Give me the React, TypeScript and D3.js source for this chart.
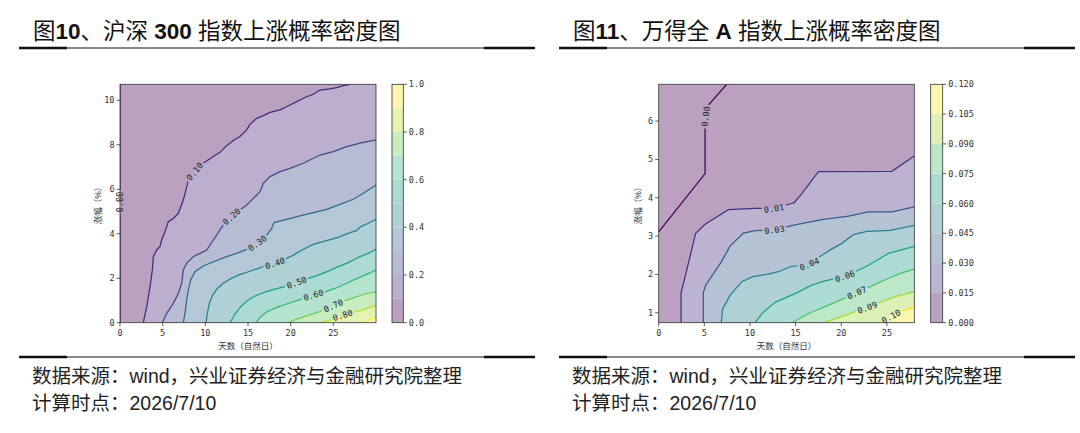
import React from "react";
import * as d3 from "d3";

type P = [number, number];

// ---------- 图10 沪深300 ----------
const HS_X_DOMAIN: P = [0, 30];
const HS_Y_DOMAIN: P = [0, 10.72];
const HS_X_TICKS = [0, 5, 10, 15, 20, 25];
const HS_Y_TICKS = [0, 2, 4, 6, 8, 10];
const HS_BOUNDS = [0, 0.1, 0.2, 0.3, 0.4, 0.5, 0.6, 0.7, 0.8, 0.9, 1.0];
const HS_CBAR_TICKS = [0, 0.2, 0.4, 0.6, 0.8, 1.0];

const HS_C00: P[] = [[0, 0], [0, 10.72]];
const HS_C10: P[] = [[2.73, 0], [3.13, 0.72], [3.52, 1.62], [3.79, 2.37], [3.91, 2.97], [4.3, 3.27], [4.69, 3.42], [4.88, 3.72], [5.27, 4.09], [5.47, 4.32], [5.66, 4.54], [6.25, 4.69], [6.84, 4.92], [7.42, 5.52], [7.73, 5.97], [8.01, 6.42], [8.79, 6.82], [9.45, 7.09], [10.16, 7.27], [10.94, 7.47], [11.72, 7.66], [12.5, 7.96], [13.28, 8.19], [14.06, 8.37], [14.84, 8.67], [15.23, 8.92], [16.02, 9.19], [16.8, 9.31], [17.58, 9.46], [18.75, 9.57], [19.92, 9.79], [20.7, 9.94], [21.88, 10.16], [22.66, 10.27], [23.44, 10.46], [24.61, 10.51], [25.39, 10.57], [26.17, 10.66], [26.95, 10.72]];
const HS_C20: P[] = [[4.96, 0], [5.47, 0.42], [6.25, 0.87], [6.84, 1.32], [7.23, 1.77], [7.42, 2.37], [7.81, 2.67], [8.59, 2.97], [9.38, 3.12], [10.16, 3.27], [10.55, 3.49], [10.94, 3.72], [11.33, 3.94], [11.72, 4.17], [12.11, 4.39], [13.09, 4.77], [14.06, 5.07], [14.84, 5.29], [15.63, 5.59], [16.41, 5.89], [16.8, 6.27], [17.58, 6.57], [18.75, 6.79], [19.92, 6.94], [21.48, 7.17], [23.44, 7.54], [25, 7.69], [26.56, 7.92], [28.13, 8.07], [30, 8.22]];
const HS_C30: P[] = [[7.42, 0], [7.62, 0.42], [7.81, 1.02], [8.01, 1.47], [8.28, 1.92], [8.79, 2.29], [9.77, 2.55], [10.94, 2.74], [12.5, 2.97], [13.67, 3.12], [14.84, 3.3], [16.09, 3.57], [17.19, 3.94], [17.77, 4.24], [18.05, 4.5], [19.53, 4.65], [21.09, 4.8], [22.66, 4.95], [24.22, 5.1], [25.78, 5.32], [27.34, 5.55], [28.52, 5.82], [30, 6.19]];
const HS_C40: P[] = [[10.08, 0], [10.23, 0.42], [10.47, 0.87], [10.86, 1.24], [11.41, 1.54], [12.11, 1.77], [12.89, 1.96], [13.87, 2.14], [15.04, 2.29], [16.21, 2.44], [16.99, 2.55], [18.16, 2.67], [19.34, 2.86], [20.31, 3.04], [21.48, 3.3], [22.66, 3.52], [24.22, 3.69], [25.59, 3.84], [26.95, 4.05], [27.73, 4.14], [28.2, 4.32], [29.1, 4.47], [30, 4.65]];
const HS_C50: P[] = [[12.89, 0], [13.48, 0.39], [14.14, 0.72], [14.92, 0.99], [15.82, 1.2], [16.88, 1.36], [18.05, 1.5], [19.34, 1.62], [20.7, 1.8], [22.07, 1.99], [23.24, 2.14], [24.41, 2.32], [25.59, 2.52], [26.76, 2.7], [27.93, 2.94], [29.1, 3.12], [30, 3.3]];
const HS_C60: P[] = [[15.94, 0], [16.41, 0.24], [17.19, 0.48], [18.36, 0.69], [19.53, 0.84], [20.7, 0.99], [22.66, 1.24], [24.02, 1.39], [25.2, 1.54], [26.37, 1.74], [27.54, 1.95], [28.71, 2.14], [30, 2.37]];
const HS_C70: P[] = [[19.73, 0], [20.7, 0.16], [21.88, 0.31], [23.05, 0.45], [23.91, 0.57], [25.0, 0.76], [26.37, 0.99], [27.54, 1.14], [28.71, 1.29], [30, 1.39]];
const HS_C80: P[] = [[23.44, 0], [24.61, 0.12], [26.09, 0.33], [27.34, 0.46], [28.71, 0.61], [30, 0.79]];
const HS_C90: P[] = [[28.52, 0], [30, 0.27]];
const HS_LINES = [HS_C00, HS_C10, HS_C20, HS_C30, HS_C40, HS_C50, HS_C60, HS_C70, HS_C80, HS_C90];
const HS_LABEL_TEXT = ["0.00", "0.10", "0.20", "0.30", "0.40", "0.50", "0.60", "0.70", "0.80"];
const HS_LABEL_AT: P[] = [[0, 5.43], [8.79, 6.79], [13.09, 4.77], [16.09, 3.57], [18.16, 2.67], [20.7, 1.8], [22.66, 1.24], [25.0, 0.76], [26.09, 0.33]];

// ---------- 图11 万得全A ----------
const WA_X_DOMAIN: P = [0, 28];
const WA_Y_DOMAIN: P = [0.74, 6.96];
const WA_X_TICKS = [0, 5, 10, 15, 20, 25];
const WA_Y_TICKS = [1, 2, 3, 4, 5, 6];
const WA_BOUNDS = [0, 0.015, 0.03, 0.045, 0.06, 0.075, 0.09, 0.105, 0.12];
const WA_CBAR_TICKS = [0, 0.015, 0.03, 0.045, 0.06, 0.075, 0.09, 0.105, 0.12];

const WA_C00: P[] = [[0, 3.11], [5.08, 4.63], [5.08, 5.95], [5.25, 6.3], [5.44, 6.42], [7.45, 6.96]];
const WA_C01: P[] = [[2.45, 0.74], [2.45, 1.51], [4.05, 3.07], [5.08, 3.31], [7.64, 3.69], [10.56, 3.72], [12.64, 3.72], [14.84, 3.87], [15.68, 4.11], [17.5, 4.68], [25.54, 4.69], [28, 5.09]];
const WA_C03: P[] = [[4.89, 0.74], [4.89, 1.53], [5.18, 1.73], [6.9, 2.34], [7.82, 2.74], [9.29, 3.08], [10.56, 3.14], [12.68, 3.16], [14.94, 3.29], [17.87, 3.43], [20.79, 3.52], [22.98, 3.63], [25.54, 3.63], [28, 3.76]];
const WA_C04: P[] = [[6.85, 0.74], [7.0, 1.1], [7.45, 1.29], [7.83, 1.46], [9.11, 1.81], [10.32, 1.94], [11.85, 2.0], [13.13, 2.07], [14.41, 2.2], [16.5, 2.27], [17.68, 2.47], [18.78, 2.64], [20.07, 2.81], [21.34, 3.04], [22.8, 3.12], [25.36, 3.15], [28, 3.28]];
const WA_C06: P[] = [[10.56, 0.74], [11.4, 1.0], [12.75, 1.27], [14.94, 1.5], [16.77, 1.72], [18.23, 1.83], [20.4, 1.95], [22.99, 2.24], [25.18, 2.55], [28, 2.73]];
const WA_C07: P[] = [[14.58, 0.74], [16.41, 0.98], [18.6, 1.2], [20.24, 1.37], [21.7, 1.52], [23.35, 1.7], [25.18, 1.9], [26.64, 2.04], [28, 2.14]];
const WA_C09: P[] = [[18.05, 0.74], [20.06, 0.9], [21.52, 1.03], [22.85, 1.13], [24.45, 1.29], [25.91, 1.42], [28, 1.55]];
const WA_C10: P[] = [[24.2, 0.74], [25.45, 0.9], [26.64, 1.05], [28, 1.14]];
const WA_LINES = [WA_C00, WA_C01, WA_C03, WA_C04, WA_C06, WA_C07, WA_C09, WA_C10];
const WA_LABEL_TEXT = ["0.00", "0.01", "0.03", "0.04", "0.06", "0.07", "0.09", "0.10"];
const WA_LABEL_AT: P[] = [[5.12, 6.12], [12.64, 3.72], [12.68, 3.16], [16.5, 2.27], [20.4, 1.95], [21.7, 1.52], [22.85, 1.13], [25.45, 0.9]];

const FILL_ALPHA = 0.37;
const CJK = "'Liberation Sans', Arial, 'Noto Sans CJK SC', sans-serif";
const MONO = "'DejaVu Sans Mono', monospace";

function placeLabel(pix: P[], target: P, half: number) {
  const cum = [0];
  for (let i = 1; i < pix.length; i++) {
    cum.push(cum[i - 1] + Math.hypot(pix[i][0] - pix[i - 1][0], pix[i][1] - pix[i - 1][1]));
  }
  const total = cum[cum.length - 1];
  let best = { d: Infinity, s: 0, p: pix[0] as P };
  for (let i = 1; i < pix.length; i++) {
    const a = pix[i - 1], b = pix[i];
    const dx = b[0] - a[0], dy = b[1] - a[1];
    const L2 = dx * dx + dy * dy || 1e-9;
    let t = ((target[0] - a[0]) * dx + (target[1] - a[1]) * dy) / L2;
    t = Math.max(0, Math.min(1, t));
    const p: P = [a[0] + t * dx, a[1] + t * dy];
    const d = Math.hypot(p[0] - target[0], p[1] - target[1]);
    if (d < best.d) best = { d, s: cum[i - 1] + t * Math.sqrt(L2), p };
  }
  const at = (s: number): P => {
    s = Math.max(0, Math.min(total, s));
    for (let i = 1; i < pix.length; i++) {
      if (s <= cum[i] || i === pix.length - 1) {
        const seg = cum[i] - cum[i - 1] || 1e-9;
        const t = (s - cum[i - 1]) / seg;
        return [pix[i - 1][0] + t * (pix[i][0] - pix[i - 1][0]), pix[i - 1][1] + t * (pix[i][1] - pix[i - 1][1])];
      }
    }
    return pix[pix.length - 1];
  };
  const a = at(best.s - half), b = at(best.s + half);
  let ang = (Math.atan2(b[1] - a[1], b[0] - a[0]) * 180) / Math.PI;
  if (ang > 90) ang -= 180;
  if (ang < -90) ang += 180;
  return { x: best.p[0], y: best.p[1], ang };
}

type PanelProps = {
  id: string;
  px0: number; px1: number; py0: number; py1: number;
  bx0: number; bx1: number; ylabX: number;
  xDomain: P; yDomain: P;
  lines: P[][]; labelText: string[]; labelAt: P[];
  xTicks: number[]; yTicks: number[];
  bounds: number[]; cTicks: number[]; cFmt: string;
};

function Panel(p: PanelProps) {
  const x = d3.scaleLinear().domain(p.xDomain).range([p.px0, p.px1]);
  const y = d3.scaleLinear().domain(p.yDomain).range([p.py1, p.py0]);
  const nb = p.bounds.length - 1;
  const lineColor = (k: number) => d3.interpolateViridis(k / (nb - 1));
  const fillColor = (k: number) => d3.interpolateRgb("#ffffff", lineColor(k))(FILL_ALPHA);
  const lineGen = d3.line<P>().x((d) => x(d[0])).y((d) => y(d[1]));
  const regions = p.lines.map((pts) => {
    const last = pts[pts.length - 1];
    const poly: P[] = [...pts];
    if (last[1] >= p.yDomain[1] - 1e-6 && last[0] < p.xDomain[1]) poly.push([p.xDomain[1], p.yDomain[1]]);
    poly.push([p.xDomain[1], p.yDomain[0]]);
    return (lineGen(poly) || "") + "Z";
  });
  const labels = p.labelText.map((t, i) => {
    const pix = p.lines[i].map((d) => [x(d[0]), y(d[1])] as P);
    const pl = placeLabel(pix, [x(p.labelAt[i][0]), y(p.labelAt[i][1])], 10);
    return { t, ...pl };
  });
  const cy = d3.scaleLinear().domain([p.bounds[0], p.bounds[nb]]).range([p.py1, p.py0]);
  const fmt = d3.format(p.cFmt);
  const tickCol = "#333";
  const w = p.px1 - p.px0, h = p.py1 - p.py0;
  return (
    <g>
      <defs>
        <clipPath id={`clip-${p.id}`}>
          <rect x={p.px0} y={p.py0} width={w} height={h} />
        </clipPath>
        <mask id={`mask-${p.id}`} maskUnits="userSpaceOnUse" x={0} y={0} width={1080} height={433}>
          <rect x={0} y={0} width={1080} height={433} fill="white" />
          {labels.map((l, i) => (
            <rect key={i} x={-12} y={-4.5} width={24} height={9} fill="black"
              transform={`translate(${l.x},${l.y}) rotate(${l.ang})`} />
          ))}
        </mask>
      </defs>
      <g clipPath={`url(#clip-${p.id})`}>
        <rect x={p.px0} y={p.py0} width={w} height={h} fill={fillColor(0)} />
        {regions.map((d, k) => (k === 0 ? null : <path key={k} d={d} fill={fillColor(k)} />))}
        <g mask={`url(#mask-${p.id})`}>
          {p.lines.map((pts, k) => (
            <path key={k} d={lineGen(pts) || ""} fill="none" stroke={lineColor(k)} strokeWidth={1.25} />
          ))}
        </g>
      </g>
      {labels.map((l, i) => (
        <text key={i} transform={`translate(${l.x},${l.y}) rotate(${l.ang})`} textAnchor="middle"
          dominantBaseline="central" fontSize={8.5} fontFamily={MONO} fill="#222">{l.t}</text>
      ))}
      <rect x={p.px0} y={p.py0} width={w} height={h} fill="none" stroke="#333" strokeWidth={0.8} />
      {p.xTicks.map((t) => (
        <g key={t}>
          <line x1={x(t)} x2={x(t)} y1={p.py1} y2={p.py1 + 3.5} stroke={tickCol} strokeWidth={0.8} />
          <text x={x(t)} y={p.py1 + 13.5} textAnchor="middle" fontSize={8.5} fontFamily={MONO} fill={tickCol}>{t}</text>
        </g>
      ))}
      {p.yTicks.map((t) => (
        <g key={t}>
          <line x1={p.px0 - 3.5} x2={p.px0} y1={y(t)} y2={y(t)} stroke={tickCol} strokeWidth={0.8} />
          <text x={p.px0 - 5.5} y={y(t)} textAnchor="end" dominantBaseline="central" fontSize={8.5} fontFamily={MONO} fill={tickCol}>{t}</text>
        </g>
      ))}
      <text x={(p.px0 + p.px1) / 2} y={p.py1 + 26.5} textAnchor="middle" fontSize={8.5} fontFamily={CJK} fill="#333">天数（自然日）</text>
      <text transform={`translate(${p.ylabX},${(p.py0 + p.py1) / 2}) rotate(-90)`} textAnchor="middle"
        dominantBaseline="central" fontSize={8.5} fontFamily={CJK} fill="#333">涨幅（%）</text>
      {p.bounds.slice(0, nb).map((b, k) => (
        <rect key={k} x={p.bx0} y={cy(p.bounds[k + 1])} width={p.bx1 - p.bx0}
          height={cy(b) - cy(p.bounds[k + 1])} fill={fillColor(k)} />
      ))}
      <rect x={p.bx0} y={p.py0} width={p.bx1 - p.bx0} height={h} fill="none" stroke="#333" strokeWidth={0.8} />
      {p.cTicks.map((t) => (
        <g key={t}>
          <line x1={p.bx1} x2={p.bx1 + 3.5} y1={cy(t)} y2={cy(t)} stroke={tickCol} strokeWidth={0.8} />
          <text x={p.bx1 + 5.5} y={cy(t)} dominantBaseline="central" fontSize={8.5} fontFamily={MONO} fill={tickCol}>{fmt(t)}</text>
        </g>
      ))}
    </g>
  );
}

function Rule({ x0, x1, y }: { x0: number; x1: number; y: number }) {
  return (
    <g>
      <line x1={x0} x2={x1} y1={y} y2={y} stroke="#111" strokeWidth={1} />
      <line x1={x0} x2={x0 + 48} y1={y} y2={y} stroke="#111" strokeWidth={2.4} />
      <line x1={x1 - 51} x2={x1} y1={y} y2={y} stroke="#111" strokeWidth={2.4} />
    </g>
  );
}

export default function App() {
  return (
    <div style={{ position: "absolute", left: 0, top: 0 }}>
      <svg width={1080} height={433} style={{ display: "block", background: "#fff" }}>
        <text x={33} y={39} fontSize={22.5} fontFamily={CJK} fill="#111">
          图<tspan fontWeight="bold">10</tspan>、沪深 <tspan fontWeight="bold">300</tspan> 指数上涨概率密度图
        </text>
        <text x={573} y={39} fontSize={22.5} fontFamily={CJK} fill="#111">
          图<tspan fontWeight="bold">11</tspan>、万得全 <tspan fontWeight="bold">A</tspan> 指数上涨概率密度图
        </text>
        <Rule x0={19} x1={535} y={48} />
        <Rule x0={559} x1={1075} y={48} />
        <Panel id="hs" px0={120} px1={376} py0={84.3} py1={322.7} bx0={392} bx1={403.3} ylabX={98}
          xDomain={HS_X_DOMAIN} yDomain={HS_Y_DOMAIN} lines={HS_LINES} labelText={HS_LABEL_TEXT}
          labelAt={HS_LABEL_AT} xTicks={HS_X_TICKS} yTicks={HS_Y_TICKS} bounds={HS_BOUNDS}
          cTicks={HS_CBAR_TICKS} cFmt=".1f" />
        <Panel id="wa" px0={658.7} px1={914.3} py0={84.3} py1={322.7} bx0={930.7} bx1={942.7} ylabX={638}
          xDomain={WA_X_DOMAIN} yDomain={WA_Y_DOMAIN} lines={WA_LINES} labelText={WA_LABEL_TEXT}
          labelAt={WA_LABEL_AT} xTicks={WA_X_TICKS} yTicks={WA_Y_TICKS} bounds={WA_BOUNDS}
          cTicks={WA_CBAR_TICKS} cFmt=".3f" />
        <Rule x0={19} x1={535} y={357} />
        <Rule x0={559} x1={1075} y={357} />
        <text x={32} y={383} fontSize={19.5} fontFamily={CJK} fill="#222">数据来源：wind，兴业证券经济与金融研究院整理</text>
        <text x={32} y={410} fontSize={19.5} fontFamily={CJK} fill="#222">计算时点：2026/7/10</text>
        <text x={572} y={383} fontSize={19.5} fontFamily={CJK} fill="#222">数据来源：wind，兴业证券经济与金融研究院整理</text>
        <text x={572} y={410} fontSize={19.5} fontFamily={CJK} fill="#222">计算时点：2026/7/10</text>
      </svg>
    </div>
  );
}
